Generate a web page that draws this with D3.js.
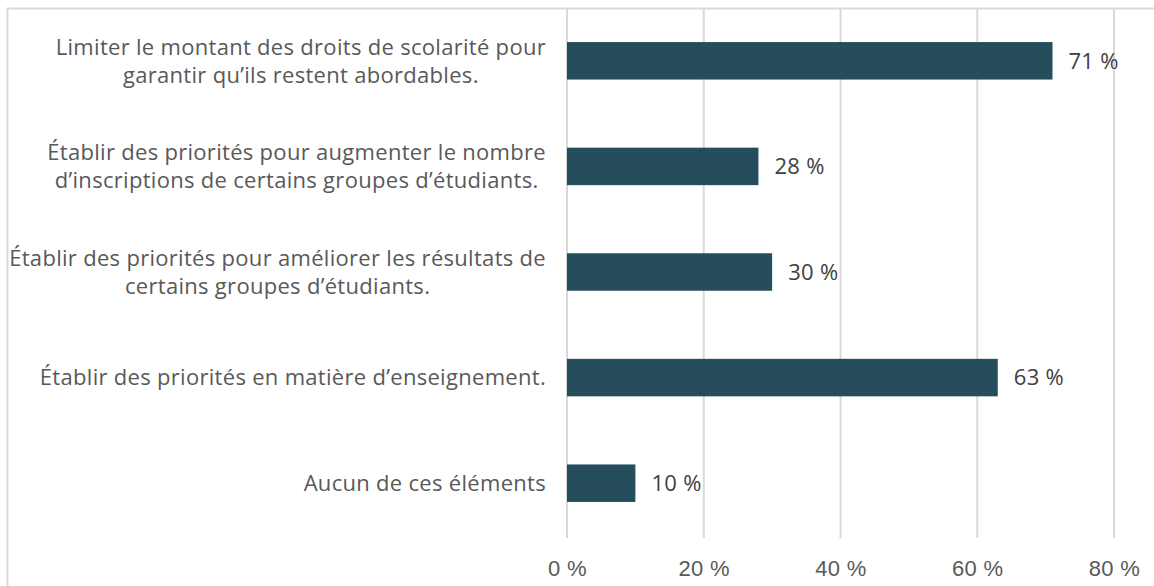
<!DOCTYPE html>
<html>
<head>
<meta charset="utf-8">
<script src="https://cdn.jsdelivr.net/npm/d3@7"></script>
<style>
  body { margin: 0; background: #fff; }
  svg { display: block; font-family: "Open Sans", sans-serif; letter-spacing: 0.3px; }
</style>
</head>
<body>
<svg id="chart" width="1154" height="586"></svg>
<script>
var categories = [
    ["Limiter le montant des droits de scolarité pour", "garantir qu\u2019ils restent abordables."],
    ["Établir des priorités pour augmenter le nombre", "d\u2019inscriptions de certains groupes d\u2019étudiants."],
    ["Établir des priorités pour améliorer les résultats de", "certains groupes d\u2019étudiants."],
    ["Établir des priorités en matière d\u2019enseignement."],
    ["Aucun de ces éléments"]
];
var values = [71, 28, 30, 63, 10];
var xTicks = [0, 20, 40, 60, 80];

var WIDTH = 1154;
var HEIGHT = 586;
var PLOT_LEFT = 567;
var PLOT_RIGHT = 1114;
var PLOT_TOP = 8;
var PLOT_BOTTOM = 536;
var FONT_SIZE = 22;

var svg = d3.select("#chart");

// outer frame (cropped at right and bottom)
svg.append("rect")
    .attr("x", 7.5).attr("y", 8.5)
    .attr("width", WIDTH + 20).attr("height", HEIGHT + 20)
    .attr("fill", "none")
    .attr("stroke", "#d9d9d9")
    .attr("stroke-width", 2);

var x = d3.scaleLinear().domain([0, 80]).range([PLOT_LEFT, PLOT_RIGHT]);
var y = d3.scaleBand()
    .domain(d3.range(categories.length))
    .range([PLOT_TOP, PLOT_BOTTOM])
    .paddingInner(0.645)
    .paddingOuter(0.3225);

// gridlines
svg.append("g")
    .selectAll("line")
    .data(xTicks)
    .join("line")
    .attr("x1", function(d){ return x(d); })
    .attr("x2", function(d){ return x(d); })
    .attr("y1", PLOT_TOP + 1)
    .attr("y2", 538)
    .attr("stroke", "#d9d9d9")
    .attr("stroke-width", 2);

// x axis labels
var xAxis = d3.axisBottom(x)
    .tickValues(xTicks)
    .tickSize(0)
    .tickFormat(function(d){ return d + " %"; });
var axisG = svg.append("g")
    .attr("transform", "translate(0,568)")
    .call(xAxis);
axisG.select(".domain").remove();
axisG.selectAll("text")
    .attr("y", 0)
    .attr("dy", "0.35em")
    .attr("font-size", FONT_SIZE)
    .attr("font-family", null)
    .attr("fill", "#595959");

// bars
svg.append("g")
    .selectAll("rect")
    .data(values)
    .join("rect")
    .attr("x", x(0))
    .attr("y", function(d, i){ return y(i); })
    .attr("width", function(d){ return x(d) - x(0); })
    .attr("height", y.bandwidth())
    .attr("fill", "#264d5c");

// value labels
svg.append("g")
    .selectAll("text")
    .data(values)
    .join("text")
    .attr("x", function(d){ return x(d) + 16; })
    .attr("y", function(d, i){ return y(i) + y.bandwidth() / 2; })
    .attr("dy", "0.35em")
    .attr("font-size", FONT_SIZE)
    .attr("fill", "#404040")
    .text(function(d){ return d + " %"; });

// category labels: lines centred on each other, block right aligned
var LABEL_RIGHT = 546;
var LINE_H = 28;
categories.forEach(function(lines, i){
    var cy = y(i) + y.bandwidth() / 2;
    var g = svg.append("g");
    var texts = lines.map(function(line, j){
        return g.append("text")
            .attr("y", cy + (j - (lines.length - 1) / 2) * LINE_H)
            .attr("dy", "0.35em")
            .attr("font-size", FONT_SIZE)
            .attr("fill", "#595959")
            .attr("text-anchor", "middle")
            .text(line);
    });
    var maxW = d3.max(texts, function(t){ return t.node().getComputedTextLength(); });
    texts.forEach(function(t){ t.attr("x", LABEL_RIGHT - maxW / 2); });
});
</script>
</body>
</html>
